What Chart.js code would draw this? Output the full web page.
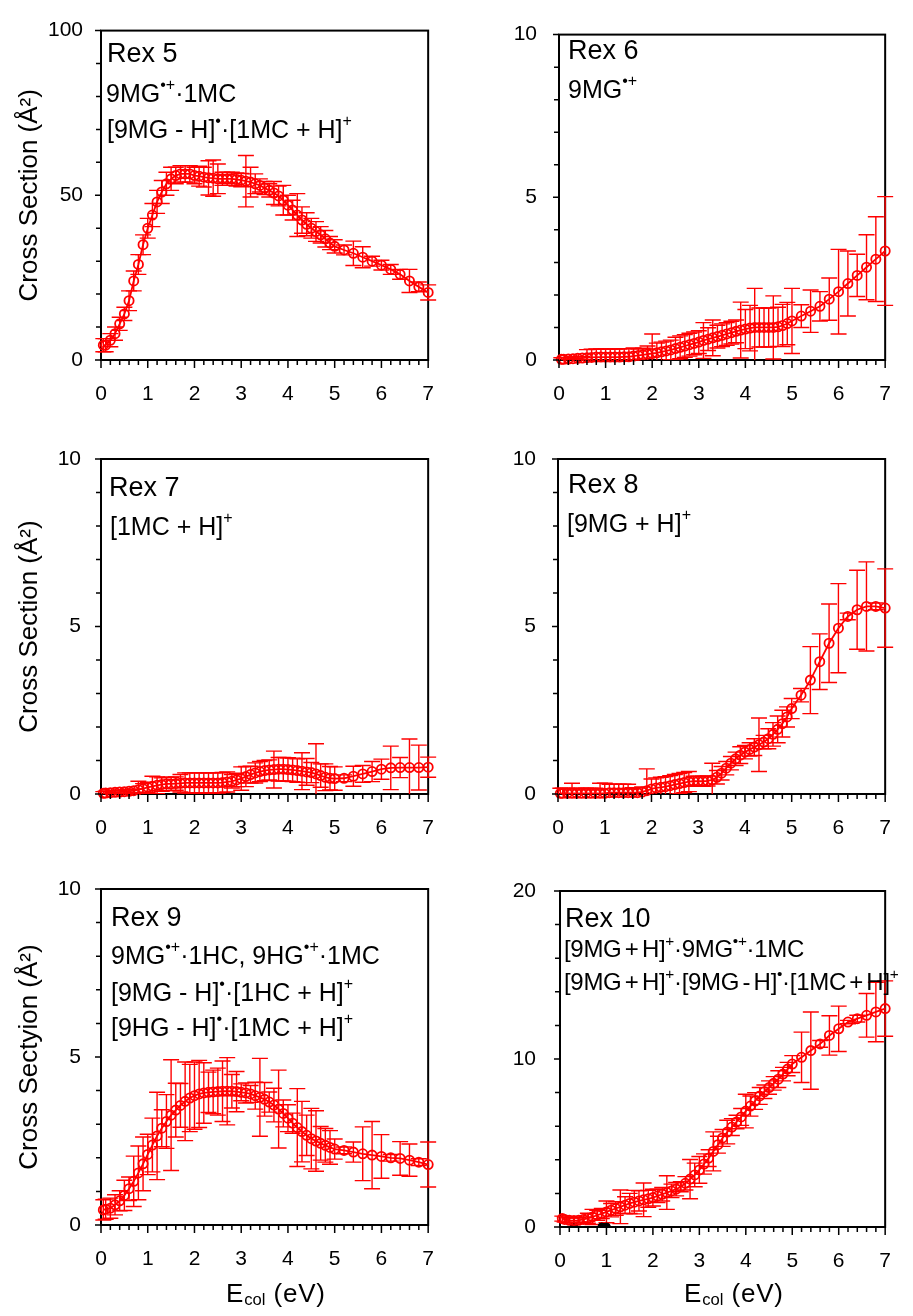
<!DOCTYPE html>
<html>
<head>
<meta charset="utf-8">
<script src="https://cdn.jsdelivr.net/npm/chart.js@4.4.1/dist/chart.umd.min.js"></script>
<style>
  body { margin: 0; background: #fff; }
  #wrap { position: relative; width: 913px; height: 1316px; background: #fff; overflow: hidden; }
  canvas { position: absolute; }
  .lbl { position: absolute; font-family: "Liberation Sans", Arial, sans-serif; line-height: 1; white-space: nowrap; color: #000; }
  .lbl sup { font-size: 64%; position: relative; top: -0.72em; vertical-align: baseline; line-height: 0; }
  .lbl sub { font-size: 64%; position: relative; top: 0.2em; vertical-align: baseline; line-height: 0; letter-spacing: 0; }
  .rex { font-size: 27px; }
  .cmp { font-size: 25px; }
  .cmp10 { font-size: 24px; letter-spacing: -0.3px; word-spacing: -3px; }
  .xt { font-size: 26px; letter-spacing: 0.8px; }
</style>
</head>
<body>
<div id="wrap">
  <canvas id="c5" width="456" height="420" style="left:0;top:0"></canvas>
  <canvas id="c6" width="457" height="420" style="left:456px;top:0"></canvas>
  <canvas id="c7" width="456" height="430" style="left:0;top:420px"></canvas>
  <canvas id="c8" width="457" height="430" style="left:456px;top:420px"></canvas>
  <canvas id="c9" width="456" height="466" style="left:0;top:850px"></canvas>
  <canvas id="c10" width="457" height="466" style="left:456px;top:850px"></canvas>

  <div class="lbl rex" style="left:107px;top:40px">Rex 5</div>
  <div class="lbl cmp" style="left:106px;top:81px">9MG<sup>•+</sup>·1MC</div>
  <div class="lbl cmp" style="left:107px;top:117px">[9MG - H]<sup>•</sup>·[1MC + H]<sup>+</sup></div>

  <div class="lbl rex" style="left:568px;top:37px">Rex 6</div>
  <div class="lbl cmp" style="left:568px;top:77px">9MG<sup>•+</sup></div>

  <div class="lbl rex" style="left:109px;top:474px">Rex 7</div>
  <div class="lbl cmp" style="left:110px;top:514px">[1MC + H]<sup>+</sup></div>

  <div class="lbl rex" style="left:568px;top:471px">Rex 8</div>
  <div class="lbl cmp" style="left:567px;top:511px">[9MG + H]<sup>+</sup></div>

  <div class="lbl rex" style="left:111px;top:904px">Rex 9</div>
  <div class="lbl cmp" style="left:111px;top:943px">9MG<sup>•+</sup>·1HC, 9HG<sup>•+</sup>·1MC</div>
  <div class="lbl cmp" style="left:111px;top:980px">[9MG - H]<sup>•</sup>·[1HC + H]<sup>+</sup></div>
  <div class="lbl cmp" style="left:111px;top:1015px">[9HG - H]<sup>•</sup>·[1MC + H]<sup>+</sup></div>

  <div class="lbl rex" style="left:565px;top:905px">Rex 10</div>
  <div class="lbl cmp10" style="left:564px;top:937px">[9MG + H]<sup>+</sup>·9MG<sup>•+</sup>·1MC</div>
  <div class="lbl cmp10" style="left:564px;top:970px">[9MG + H]<sup>+</sup>·[9MG - H]<sup>•</sup>·[1MC + H]<sup>+</sup></div>

  <div class="lbl xt" style="left:226px;top:1280px">E<sub>col</sub> (eV)</div>
  <div class="lbl xt" style="left:684px;top:1280px">E<sub>col</sub> (eV)</div>
</div>

<script>
// collision energy (eV), shared by all six panels
const energy = [0.05, 0.1, 0.2, 0.3, 0.4, 0.5, 0.6, 0.7, 0.8, 0.9,
  1.0, 1.1, 1.2, 1.3, 1.4, 1.5, 1.6, 1.7, 1.8, 1.9,
  2.0, 2.1, 2.2, 2.3, 2.4, 2.5, 2.6, 2.7, 2.8, 2.9,
  3.0, 3.1, 3.2, 3.3, 3.4, 3.5, 3.6, 3.7, 3.8, 3.9,
  4.0, 4.1, 4.2, 4.3, 4.4, 4.5, 4.6, 4.7, 4.8, 4.9,
  5.0, 5.2, 5.4, 5.6, 5.8, 6.0, 6.2, 6.4, 6.6, 6.8, 7.0];

const xTicks = [0, 1, 2, 3, 4, 5, 6, 7];

const rex5 = [4.5, 4.5, 6, 8, 11, 14, 18, 24, 29, 35,
  40, 44, 48, 51, 53.5, 55, 56, 56.5, 56.5, 56.5,
  56, 55.8, 55.5, 55.3, 55.2, 55, 55, 55, 55, 54.8,
  54.6, 54.3, 54, 53.5, 53, 52.2, 51.5, 50.7, 49.8, 48.5,
  47, 45.5, 44, 42.5, 41.2, 40, 39, 38, 36.8, 35.5,
  34.5, 33.4, 32.4, 31.2, 30, 28.8, 27.5, 26, 24, 22.2, 20.5];
const rex5Err = [2, 2, 2, 2, 2, 2, 3, 3, 3, 3,
  3, 3.5, 3.5, 3.5, 3.5, 3.5, 2.5, 2.5, 2.5, 2.5,
  2.5, 3, 3, 5.2, 5.5, 4.5, 2, 2, 2, 2,
  2, 7.8, 4.5, 3, 2, 2, 2, 3.5, 3, 4.5,
  3, 3, 6.5, 4, 3.5, 3, 3, 2.5, 2.5, 2,
  2, 1.5, 3.7, 3.2, 1.5, 1.5, 1.5, 1.5, 3.5, 1.5, 2.3];

const rex6 = [0.02, 0.02, 0.03, 0.04, 0.05, 0.06, 0.07, 0.08, 0.09, 0.09,
  0.09, 0.09, 0.09, 0.09, 0.1, 0.1, 0.12, 0.14, 0.16, 0.18,
  0.2, 0.22, 0.25, 0.28, 0.31, 0.35, 0.39, 0.43, 0.47, 0.51,
  0.55, 0.6, 0.64, 0.68, 0.72, 0.76, 0.8, 0.84, 0.88, 0.92,
  0.95, 0.98, 1.0, 1.0, 1.0, 1.0, 1.0, 1.02, 1.06, 1.12,
  1.2, 1.35, 1.5, 1.65, 1.87, 2.1, 2.35, 2.6, 2.85, 3.1, 3.35];
const rex6Err = [0.05, 0.05, 0.05, 0.05, 0.05, 0.05, 0.25, 0.25, 0.25, 0.25,
  0.25, 0.25, 0.25, 0.25, 0.25, 0.25, 0.25, 0.2, 0.2, 0.25,
  0.6, 0.3, 0.3, 0.3, 0.3, 0.35, 0.35, 0.35, 0.35, 0.35,
  0.35, 0.55, 0.35, 0.55, 0.35, 0.35, 0.35, 0.35, 0.35, 0.86,
  0.6, 0.7, 1.2, 0.6, 0.6, 0.6, 0.97, 0.6, 0.65, 0.65,
  1.0, 0.35, 0.65, 0.45, 0.65, 1.3, 1.0, 0.65, 1.0, 1.3, 1.67];

const rex7 = [0.02, 0.03, 0.04, 0.05, 0.06, 0.07, 0.08, 0.1, 0.13, 0.16,
  0.2, 0.23, 0.26, 0.28, 0.3, 0.3, 0.31, 0.32, 0.33, 0.33,
  0.33, 0.33, 0.33, 0.33, 0.33, 0.33, 0.34, 0.36, 0.38, 0.42,
  0.46, 0.52, 0.58, 0.63, 0.67, 0.7, 0.72, 0.73, 0.74, 0.74,
  0.73, 0.72, 0.7, 0.68, 0.66, 0.64, 0.6, 0.55, 0.5, 0.47,
  0.46, 0.47, 0.53, 0.6, 0.67, 0.74, 0.78, 0.79, 0.79, 0.79, 0.8];
const rex7Err = [0.05, 0.05, 0.05, 0.05, 0.05, 0.05, 0.05, 0.05, 0.25, 0.15,
  0.15, 0.3, 0.25, 0.2, 0.2, 0.2, 0.2, 0.26, 0.3, 0.3,
  0.3, 0.3, 0.3, 0.3, 0.3, 0.3, 0.3, 0.3, 0.2, 0.2,
  0.35, 0.3, 0.25, 0.3, 0.3, 0.3, 0.3, 0.55, 0.35, 0.35,
  0.35, 0.35, 0.35, 0.55, 0.4, 0.3, 0.9, 0.35, 0.4, 0.35,
  0.35, 0.1, 0.3, 0.25, 0.3, 0.3, 0.65, 0.3, 0.85, 0.67, 0.3];

const rex8 = [0.02, 0.02, 0.02, 0.02, 0.02, 0.02, 0.02, 0.02, 0.02, 0.02,
  0.02, 0.04, 0.04, 0.04, 0.04, 0.04, 0.04, 0.04, 0.06, 0.1,
  0.15, 0.18, 0.2, 0.22, 0.25, 0.28, 0.31, 0.34, 0.37, 0.38,
  0.38, 0.38, 0.39, 0.42, 0.5, 0.62, 0.77, 0.92, 1.05, 1.16,
  1.25, 1.33, 1.4, 1.47, 1.55, 1.65, 1.78, 1.93, 2.1, 2.3,
  2.55, 2.95, 3.4, 3.95, 4.5, 4.95, 5.3, 5.5, 5.6, 5.6, 5.55];
const rex8Err = [0.15, 0.15, 0.15, 0.3, 0.15, 0.15, 0.15, 0.15, 0.15, 0.3,
  0.3, 0.25, 0.25, 0.25, 0.25, 0.25, 0.15, 0.15, 0.15, 0.65,
  0.3, 0.3, 0.3, 0.3, 0.3, 0.3, 0.3, 0.3, 0.3, 0.15,
  0.15, 0.15, 0.15, 0.5, 0.2, 0.2, 0.2, 0.2, 0.2, 0.25,
  0.2, 0.2, 0.25, 0.8, 0.2, 0.3, 0.35, 0.4, 0.4, 0.3,
  0.3, 0.2, 1.0, 0.83, 1.17, 1.33, 0.1, 1.18, 1.33, 0.1, 1.17];

const rex9 = [0.45, 0.47, 0.5, 0.6, 0.72, 0.88, 1.08, 1.3, 1.55, 1.82,
  2.1, 2.38, 2.65, 2.88, 3.08, 3.27, 3.42, 3.56, 3.68, 3.78,
  3.85, 3.9, 3.93, 3.95, 3.96, 3.97, 3.98, 3.98, 3.98, 3.97,
  3.95, 3.93, 3.9, 3.85, 3.8, 3.74, 3.66, 3.57, 3.45, 3.32,
  3.18, 3.03, 2.9, 2.78, 2.67, 2.57, 2.5, 2.43, 2.37, 2.31,
  2.26, 2.22, 2.17, 2.12, 2.08, 2.04, 2.0, 1.98, 1.93, 1.87, 1.8];
const rex9Err = [0.3, 0.3, 0.3, 0.3, 0.3, 0.45, 0.35, 0.75, 0.8, 0.8,
  0.6, 0.8, 1.3, 0.55, 0.8, 1.65, 0.8, 0.65, 1.17, 1.0,
  1.0, 1.0, 0.9, 0.6, 0.65, 0.7, 0.9, 1.0, 0.5, 0.6,
  0.25, 0.3, 0.25, 0.4, 1.16, 0.5, 0.3, 0.5, 1.16, 0.4,
  0.4, 0.3, 1.16, 0.9, 0.6, 0.9, 0.9, 0.5, 0.5, 0.5,
  0.3, 0.1, 0.3, 0.8, 1.0, 0.65, 0.1, 0.5, 0.48, 0.1, 0.67];

const rex10 = [0.5, 0.45, 0.4, 0.38, 0.4, 0.45, 0.52, 0.6, 0.7, 0.8,
  0.9, 1.0, 1.1, 1.2, 1.3, 1.4, 1.48, 1.55, 1.62, 1.68,
  1.75, 1.85, 1.95, 2.05, 2.15, 2.25, 2.4, 2.6, 2.85, 3.1,
  3.4, 3.75, 4.1, 4.5, 4.9, 5.3, 5.65, 5.95, 6.25, 6.55,
  6.9, 7.2, 7.5, 7.8, 8.05, 8.3, 8.55, 8.8, 9.1, 9.4,
  9.7, 10.1, 10.5, 10.9, 11.4, 11.8, 12.2, 12.4, 12.6, 12.8, 13.0];
const rex10Err = [0.15, 0.15, 0.15, 0.15, 0.15, 0.15, 0.3, 0.45, 0.3, 0.3,
  0.65, 0.4, 0.4, 1.0, 0.5, 0.6, 0.7, 0.6, 1.0, 0.5,
  0.5, 0.4, 0.4, 1.0, 0.4, 0.4, 0.3, 0.4, 1.17, 0.7,
  0.8, 0.6, 0.5, 1.16, 0.5, 0.5, 0.7, 0.5, 0.4, 0.5,
  1.0, 0.6, 0.5, 0.5, 0.4, 0.4, 0.4, 0.5, 0.4, 0.4,
  0.5, 1.5, 2.3, 0.2, 1.17, 1.35, 0.1, 0.2, 1.3, 1.77, 1.65];

// black points peeking out at the baseline of Rex 10
const rex10BlackX = [0.3, 0.9, 1.0];
const rex10BlackY = [0, 0, 0];

const RED = '#ff0000';
const FONT = '"Liberation Sans", Arial, sans-serif';

// frame + error bars, drawn under the markers
const errorBars = {
  id: 'errorBars',
  beforeDatasetsDraw(chart, args, o) {
    const { ctx, chartArea: a, scales: { x, y } } = chart;
    ctx.save();
    ctx.strokeStyle = '#000';
    ctx.lineWidth = 2;
    ctx.strokeRect(a.left, a.top, a.right - a.left, a.bottom - a.top);
    ctx.restore();

    const pts = chart.data.datasets[0].data;
    ctx.save();
    ctx.beginPath();
    ctx.rect(a.left - 20, a.top - 1, a.right - a.left + 40, a.bottom - a.top + 1);
    ctx.clip();
    ctx.strokeStyle = RED;
    ctx.lineWidth = 1.4;
    pts.forEach((p, i) => {
      const e = o.err[i];
      const px = x.getPixelForValue(p.x);
      const yt = y.getPixelForValue(p.y + e);
      const yb = y.getPixelForValue(p.y - e);
      ctx.beginPath();
      ctx.moveTo(px, yt); ctx.lineTo(px, yb);
      ctx.moveTo(px - 8, yt); ctx.lineTo(px + 8, yt);
      ctx.moveTo(px - 8, yb); ctx.lineTo(px + 8, yb);
      ctx.stroke();
    });
    ctx.restore();
  }
};

// outward major/minor tick marks
const tickMarks = {
  id: 'tickMarks',
  afterDraw(chart, args, o) {
    const { ctx, chartArea: a, scales: { x, y } } = chart;
    ctx.save();
    ctx.strokeStyle = '#000';
    ctx.lineWidth = 1.5;
    ctx.beginPath();
    const nx = Math.round((x.max - x.min) / o.xMinor);
    for (let k = 0; k <= nx; k++) {
      const v = x.min + k * o.xMinor;
      const major = xTicks.some(t => Math.abs(t - v) < 1e-6);
      const px = x.getPixelForValue(v);
      ctx.moveTo(px, a.bottom);
      ctx.lineTo(px, a.bottom + (major ? 8 : 5));
    }
    const ny = Math.round((y.max - y.min) / o.yMinor);
    for (let k = 0; k <= ny; k++) {
      const v = y.min + k * o.yMinor;
      const major = o.yTicks.some(t => Math.abs(t - v) < 1e-6);
      const py = y.getPixelForValue(v);
      ctx.moveTo(a.left, py);
      ctx.lineTo(a.left - (major ? 6 : 5), py);
    }
    ctx.stroke();
    ctx.restore();
  }
};

function makePanel(id, ys, err, p) {
  const datasets = [{
    data: energy.map((v, i) => ({ x: v, y: ys[i] })),
    showLine: true,
    borderColor: RED,
    borderWidth: 1.8,
    pointRadius: 4.6,
    pointBorderWidth: 1.8,
    pointBorderColor: RED,
    pointBackgroundColor: 'rgba(0,0,0,0)',
    tension: 0,
    clip: false
  }];
  if (p.extra) datasets.push(p.extra);

  new Chart(document.getElementById(id), {
    type: 'scatter',
    data: { datasets: datasets },
    options: {
      responsive: false,
      animation: false,
      layout: { padding: { left: 0, top: p.top, right: p.right, bottom: p.bottom } },
      plugins: {
        legend: { display: false },
        tooltip: { enabled: false },
        errorBars: { err: err },
        tickMarks: { xMinor: 0.2, yMinor: p.yMinor, yTicks: p.yTicks }
      },
      scales: {
        x: {
          type: 'linear', min: 0, max: 7,
          grid: { display: false, drawTicks: false },
          border: { display: false },
          ticks: { stepSize: 1, padding: 22, color: '#000', font: { family: FONT, size: 21 } },
          afterFit: s => { s.height = p.xh; }
        },
        y: {
          type: 'linear', min: 0, max: p.yTicks[p.yTicks.length - 1],
          grid: { display: false, drawTicks: false },
          border: { display: false },
          ticks: { stepSize: p.yTicks[1], padding: p.ypad, color: '#000', font: { family: FONT, size: 21 } },
          title: p.ytitle
            ? { display: true, text: p.ytitle, color: '#000', font: { family: FONT, size: 26 }, padding: { top: 14, bottom: 0 } }
            : { display: false },
          afterFit: s => { s.width = p.yw; }
        }
      }
    },
    plugins: [errorBars, tickMarks]
  });
}

makePanel('c5', rex5, rex5Err, { top: 25, right: 8, bottom: 0, xh: 60, yw: 101, ypad: 18,
  yTicks: [0, 50, 100], yMinor: 10, ytitle: 'Cross Section (Å²)' });
makePanel('c6', rex6, rex6Err, { top: 25, right: 9, bottom: 0, xh: 60, yw: 103, ypad: 22,
  yTicks: [0, 5, 10], yMinor: 1 });
makePanel('c7', rex7, rex7Err, { top: 39, right: 8, bottom: 0, xh: 56, yw: 101, ypad: 20,
  yTicks: [0, 5, 10], yMinor: 1, ytitle: 'Cross Section (Å²)' });
makePanel('c8', rex8, rex8Err, { top: 39, right: 9, bottom: 0, xh: 56, yw: 102, ypad: 22,
  yTicks: [0, 5, 10], yMinor: 1 });
makePanel('c9', rex9, rex9Err, { top: 39, right: 8, bottom: 41, xh: 50, yw: 101, ypad: 20,
  yTicks: [0, 5, 10], yMinor: 1, ytitle: 'Cross Sectyion (Å²)' });
makePanel('c10', rex10, rex10Err, { top: 41, right: 8, bottom: 39, xh: 50, yw: 104, ypad: 24,
  yTicks: [0, 10, 20], yMinor: 2,
  extra: {
    data: rex10BlackX.map((v, i) => ({ x: v, y: rex10BlackY[i] })),
    pointRadius: 4, pointBackgroundColor: '#000', pointBorderColor: '#000', clip: 0
  } });
</script>
</body>
</html>
